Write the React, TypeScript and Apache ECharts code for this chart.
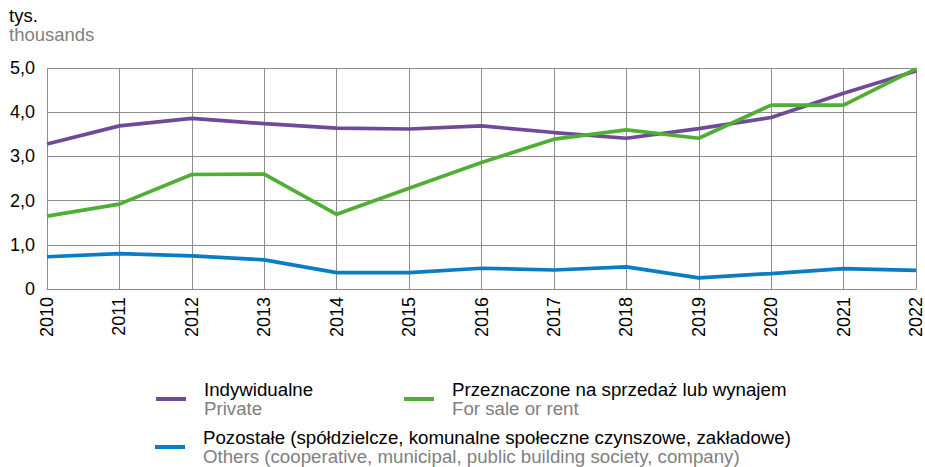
import React, { useEffect, useRef } from "react";
import * as echarts from "echarts";

const years = ["2010","2011","2012","2013","2014","2015","2016","2017","2018","2019","2020","2021","2022"];
const privateVals = [3.28, 3.69, 3.86, 3.74, 3.64, 3.62, 3.69, 3.54, 3.41, 3.63, 3.88, 4.43, 4.93];
const saleRentVals = [1.65, 1.92, 2.59, 2.60, 1.69, 2.28, 2.86, 3.39, 3.60, 3.41, 4.16, 4.16, 4.98];
const othersVals = [0.73, 0.80, 0.75, 0.66, 0.37, 0.37, 0.47, 0.43, 0.50, 0.25, 0.35, 0.46, 0.42];

const seriesNames = [
  "Indywidualne",
  "Przeznaczone na sprzedaż lub wynajem",
  "Pozostałe (spółdzielcze, komunalne społeczne czynszowe, zakładowe)",
];
const seriesEn = [
  "Private",
  "For sale or rent",
  "Others (cooperative, municipal, public building society, company)",
];
const colors = ["#6f4a9a", "#4fae33", "#0a7cc4"];

const FONT = "Liberation Sans, Arial, sans-serif";

export default function App() {
  const ref = useRef<HTMLDivElement>(null);
  useEffect(() => {
    const chart = echarts.init(ref.current!, undefined, { renderer: "svg" });
    const legendBase = (name: string, left: number, top: number) => ({
      data: [name],
      left,
      top,
      orient: "horizontal",
      icon: "rect",
      itemWidth: 30,
      itemHeight: 4,
      selectedMode: false,
      formatter: (n: string) => {
        const i = seriesNames.indexOf(n);
        return `{a|${n}}\n{b|${seriesEn[i]}}`;
      },
      textStyle: {
        padding: [0, 0, 0, 13],
        rich: {
          a: { fontFamily: FONT, fontSize: 18.7, color: "#000", lineHeight: 19 },
          b: { fontFamily: FONT, fontSize: 18.7, color: "#808080", lineHeight: 19 },
        },
      },
    });
    chart.setOption({
      animation: false,
      textStyle: { fontFamily: FONT },
      graphic: [
        { type: "text", left: 9, top: 6, style: { text: "tys.", fontFamily: FONT, fontSize: 18.5, fill: "#000" } },
        { type: "text", left: 9, top: 25, style: { text: "thousands", fontFamily: FONT, fontSize: 18.5, fill: "#808080" } },
      ],
      grid: { left: 47, right: 7, top: 68, bottom: 178, containLabel: false },
      legend: [
        legendBase(seriesNames[0], 151, 375),
        legendBase(seriesNames[1], 399, 375),
        legendBase(seriesNames[2], 150, 423),
      ],
      xAxis: {
        type: "category",
        data: years,
        boundaryGap: false,
        axisLine: { lineStyle: { color: "#8c8c8c", width: 1 } },
        axisTick: { show: false },
        axisLabel: { rotate: 90, fontFamily: FONT, fontSize: 18, color: "#000", margin: 8 },
        splitLine: { show: true, lineStyle: { color: "#8c8c8c", width: 1 } },
      },
      yAxis: {
        type: "value",
        min: 0,
        max: 5,
        interval: 1,
        axisLine: { show: false },
        axisTick: { show: false },
        axisLabel: {
          fontFamily: FONT,
          fontSize: 18,
          color: "#000",
          margin: 12,
          formatter: (v: number) => (v === 0 ? "0" : v.toFixed(1).replace(".", ",")),
        },
        splitLine: { show: true, lineStyle: { color: "#8c8c8c", width: 1 } },
      },
      series: [
        { name: seriesNames[0], type: "line", data: privateVals, symbol: "none", lineStyle: { width: 3.7, color: colors[0] }, itemStyle: { color: colors[0] } },
        { name: seriesNames[1], type: "line", data: saleRentVals, symbol: "none", lineStyle: { width: 3.7, color: colors[1] }, itemStyle: { color: colors[1] } },
        { name: seriesNames[2], type: "line", data: othersVals, symbol: "none", lineStyle: { width: 3.7, color: colors[2] }, itemStyle: { color: colors[2] } },
      ],
    });
    return () => chart.dispose();
  }, []);
  return <div ref={ref} style={{ width: 925, height: 467, position: "absolute", left: 0, top: 0 }} />;
}
